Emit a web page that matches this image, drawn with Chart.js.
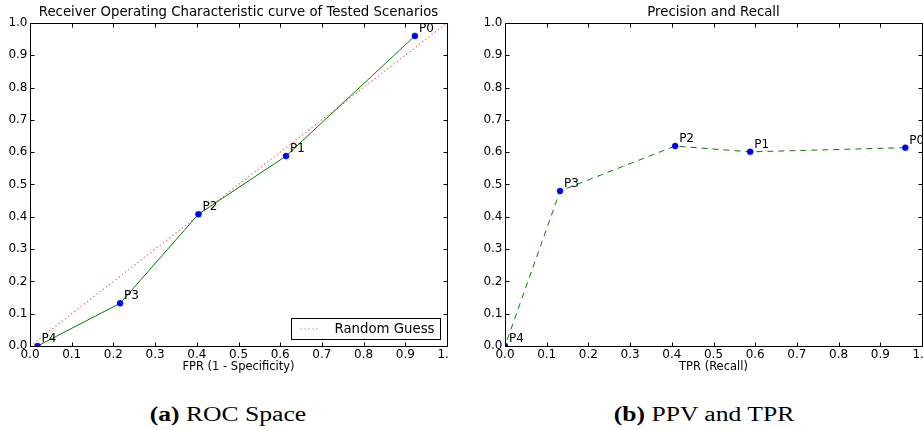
<!DOCTYPE html>
<html>
<head>
<meta charset="utf-8">
<title>ROC space and precision / recall</title>
<script src="https://cdn.jsdelivr.net/npm/chart.js@4.4.1/dist/chart.umd.min.js"></script>
<style>
  body { margin: 0; background: #fff; }
  #page { position: relative; width: 923px; height: 430px; overflow: hidden; background: #fff; }
  .panel { position: absolute; top: 0; height: 380px; overflow: hidden; }
  #rocPanel { left: 0; width: 449px; }
  #prPanel { left: 460px; width: 463px; }
  .panel canvas { position: absolute; top: 0; left: 0; }
  .caption {
    position: absolute; top: 404px; line-height: 20px;
    font-family: "Liberation Serif", "DejaVu Serif", serif; font-size: 20px;
    color: #000; white-space: nowrap;
    transform: translateX(-50%) scaleX(1.28);
  }
</style>
</head>
<body>
<div id="page">
  <div class="panel" id="rocPanel"><canvas id="rocCanvas" width="480" height="380"></canvas></div>
  <div class="panel" id="prPanel"><canvas id="prCanvas" width="490" height="380"></canvas></div>
  <div class="caption" style="left: 228px;"><b>(a)</b> ROC Space</div>
  <div class="caption" style="left: 704px;"><b>(b)</b> PPV and TPR</div>
</div>
<script>
// Tested scenarios P0..P4
const pointNames = ["P0", "P1", "P2", "P3", "P4"];
const fpr = [0.923, 0.614, 0.404, 0.216, 0.018];
const tpr = [0.960, 0.588, 0.408, 0.132, 0.0];
const ppv = [0.614, 0.601, 0.619, 0.480, 0.0];
// diagonal of the ROC space
const randomGuess = [0, 1];

const FONT = "DejaVu Sans";
const SMALL = 12;
const LARGE = 13.3;
Chart.defaults.font.family = FONT;
Chart.defaults.font.size = SMALL;
Chart.defaults.color = "#000";

const toPoints = (xs, ys) => xs.map((x, i) => ({ x: x, y: ys[i] }));

// matplotlib-like box: frame on four sides, inward ticks, point names, optional legend
const axesBox = {
  id: "axesBox",
  afterDraw(chart, args, opts) {
    const { ctx, chartArea: a, scales } = chart;
    const L = Math.round(a.left) + 0.5, R = Math.round(a.right) + 0.5;
    const T = Math.round(a.top) + 0.5, B = Math.round(a.bottom) + 0.5;
    ctx.save();
    ctx.strokeStyle = "#000";
    ctx.lineWidth = 1;
    ctx.beginPath();
    scales.x.ticks.forEach((t) => {
      const px = Math.round(scales.x.getPixelForValue(t.value)) + 0.5;
      ctx.moveTo(px, B); ctx.lineTo(px, B - 4);
      ctx.moveTo(px, T); ctx.lineTo(px, T + 4);
    });
    scales.y.ticks.forEach((t) => {
      const py = Math.round(scales.y.getPixelForValue(t.value)) + 0.5;
      ctx.moveTo(L, py); ctx.lineTo(L + 4, py);
      ctx.moveTo(R, py); ctx.lineTo(R - 4, py);
    });
    ctx.stroke();
    ctx.strokeRect(L, T, R - L, B - T);

    // scenario names next to each point
    const ds = chart.data.datasets[0].data;
    ctx.fillStyle = "#000";
    ctx.font = SMALL + "px " + FONT;
    ctx.textBaseline = "middle";
    ctx.textAlign = "left";
    ds.forEach((p, i) => {
      const px = scales.x.getPixelForValue(p.x);
      const py = scales.y.getPixelForValue(p.y);
      ctx.fillText(pointNames[i], px + 4, py - 7);
    });

    if (opts.legend) {
      const w = 149, h = 21;
      const bx = R - 7 - w, by = B - 7 - h;
      ctx.fillStyle = "#fff";
      ctx.fillRect(bx, by, w, h);
      ctx.strokeRect(bx, by, w, h);
      const cy = by + h / 2;
      ctx.strokeStyle = "rgba(255,0,0,0.55)";
      ctx.setLineDash([1.5, 2.5]);
      ctx.lineWidth = 1.2;
      ctx.beginPath();
      ctx.moveTo(bx + 9, cy); ctx.lineTo(bx + 29, cy);
      ctx.stroke();
      ctx.setLineDash([]);
      ctx.fillStyle = "#000";
      ctx.font = LARGE + "px " + FONT;
      ctx.fillText(opts.legend, bx + 43, cy + 1);
    }
    ctx.restore();
  },
};

const makeScales = (xTitle, yWidth) => ({
  x: {
    type: "linear", min: 0, max: 1,
    grid: { display: false, drawTicks: false },
    border: { display: false },
    ticks: {
      stepSize: 0.1, autoSkip: false, maxRotation: 0, padding: 2,
      callback: (v) => v.toFixed(1),
    },
    title: { display: true, text: xTitle, font: { size: 11.5 }, padding: { top: 0, bottom: 6.5 } },
    afterFit: (s) => { s.height = 34; },
  },
  y: {
    type: "linear", min: 0, max: 1,
    grid: { display: false, drawTicks: false },
    border: { display: false },
    ticks: { stepSize: 0.1, autoSkip: false, padding: 2.5, callback: (v) => v.toFixed(1) },
    afterFit: (s) => { s.width = yWidth; },
  },
});

const makeOptions = (title, xTitle, yWidth, rightPad, legendText) => ({
  responsive: false,
  animation: false,
  events: [],
  layout: { padding: { left: 0, right: rightPad, top: 0, bottom: 0 } },
  scales: makeScales(xTitle, yWidth),
  plugins: {
    legend: { display: false },
    tooltip: { enabled: false },
    title: {
      display: true, text: title, fullSize: false,
      font: { size: LARGE, weight: "normal", lineHeight: 1.2 },
      padding: { top: 5, bottom: 2 },
    },
    axesBox: { legend: legendText },
  },
});

// (a) ROC space
new Chart(document.getElementById("rocCanvas"), {
  type: "scatter",
  data: {
    datasets: [
      {
        label: "Scenarios",
        data: toPoints(fpr, tpr),
        showLine: true,
        borderColor: "#008000",
        borderWidth: 1,
        pointRadius: 3,
        pointBackgroundColor: "#0000ff",
        pointBorderColor: "#0000ee",
        pointBorderWidth: 0.5,
      },
      {
        label: "Random Guess",
        data: toPoints(randomGuess, randomGuess),
        showLine: true,
        borderColor: "rgba(255,0,0,0.55)",
        borderWidth: 1.2,
        borderDash: [1.5, 2.5],
        pointRadius: 0,
      },
    ],
  },
  options: makeOptions("Receiver Operating Characteristic curve of Tested Scenarios",
    "FPR (1 - Specificity)", 30, 33, "Random Guess"),
  plugins: [axesBox],
});

// (b) precision against recall
new Chart(document.getElementById("prCanvas"), {
  type: "scatter",
  data: {
    datasets: [
      {
        label: "Scenarios",
        data: toPoints(tpr, ppv),
        showLine: true,
        borderColor: "#008000",
        borderWidth: 1,
        borderDash: [6, 5],
        pointRadius: 3,
        pointBackgroundColor: "#0000ff",
        pointBorderColor: "#0000ee",
        pointBorderWidth: 0.5,
      },
    ],
  },
  options: makeOptions("Precision and Recall", "TPR (Recall)", 45, 28, null),
  plugins: [axesBox],
});
</script>
</body>
</html>
